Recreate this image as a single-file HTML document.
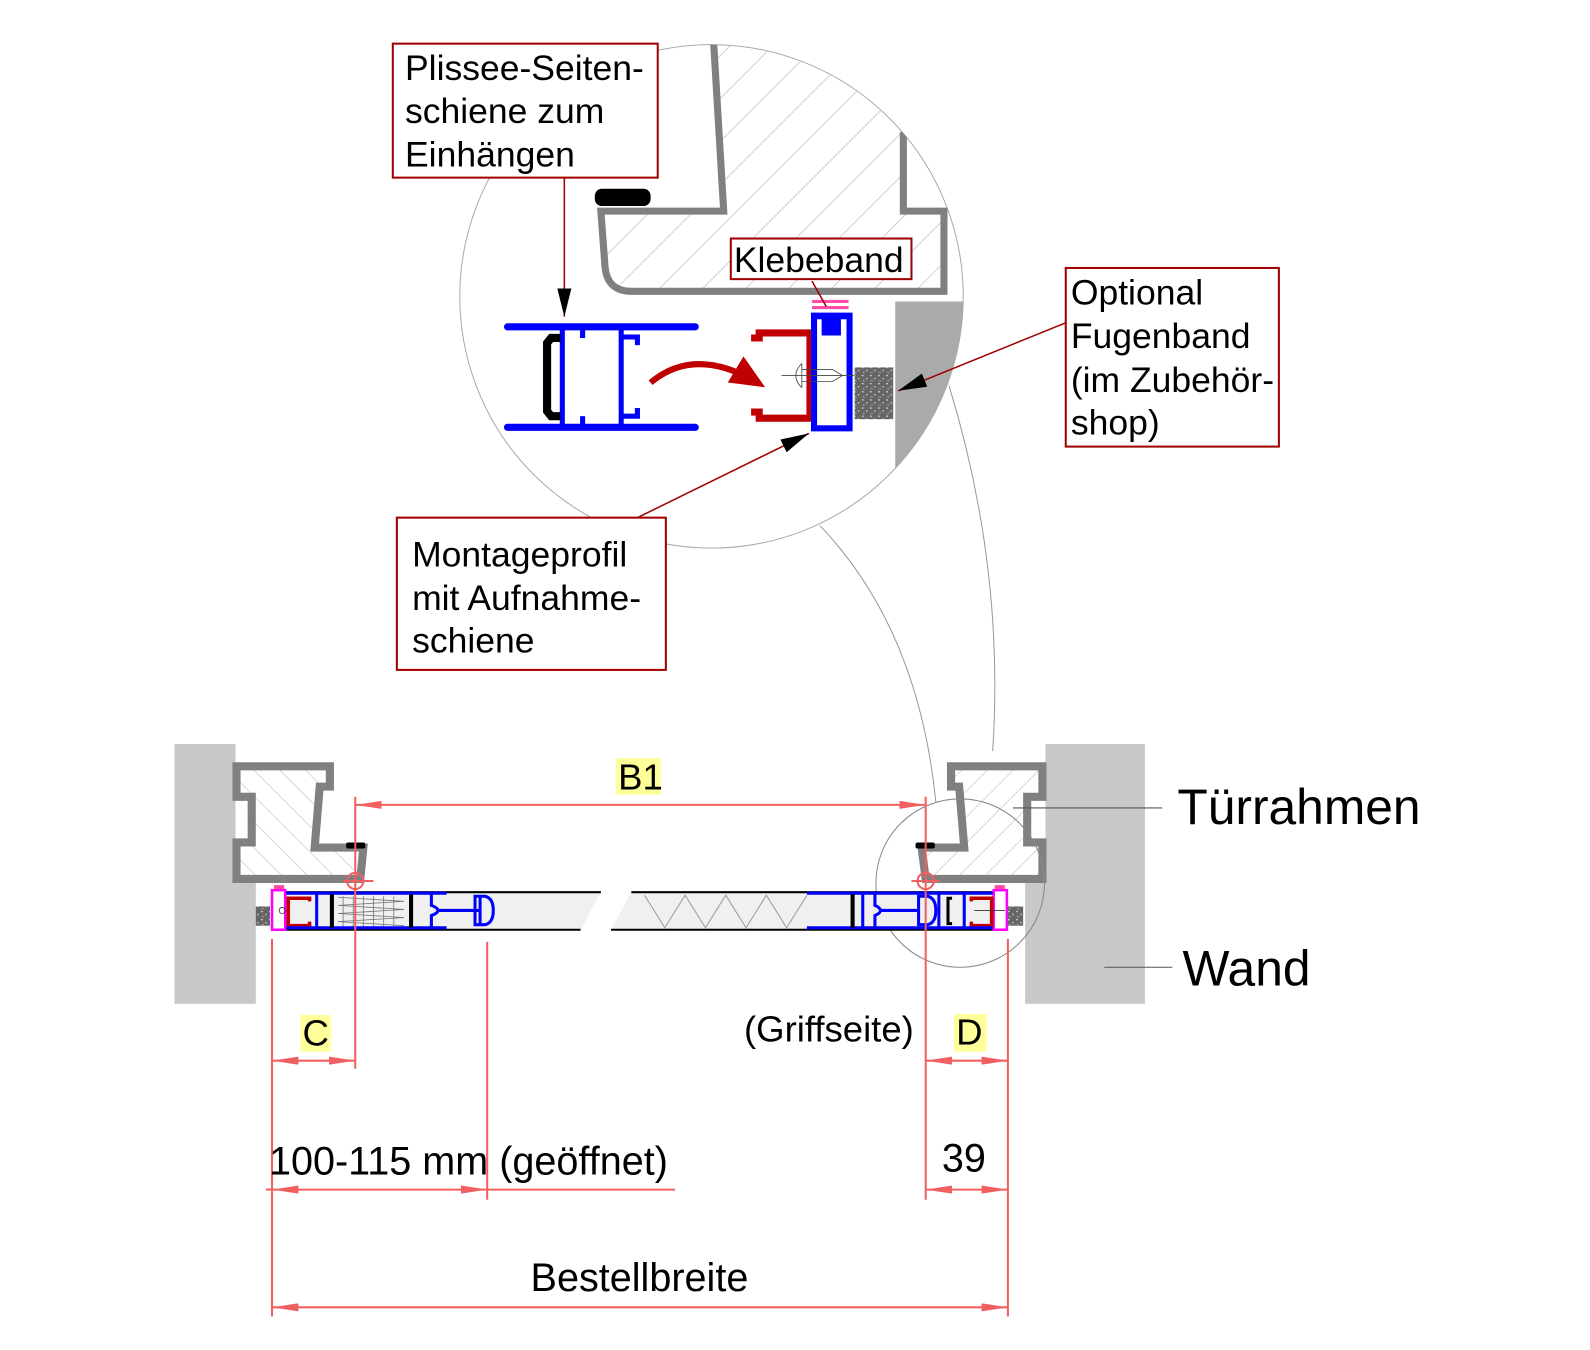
<!DOCTYPE html>
<html><head><meta charset="utf-8"><style>
html,body{margin:0;padding:0;background:#fff;}
svg{display:block;font-family:"Liberation Sans",sans-serif;}
</style></head><body>
<svg width="1590" height="1350" viewBox="0 0 1590 1350" xmlns="http://www.w3.org/2000/svg">
<defs>
<marker id="abig" viewBox="0 0 10 10" refX="10" refY="5" markerWidth="28" markerHeight="14" orient="auto" markerUnits="userSpaceOnUse" preserveAspectRatio="none"><path d="M0,0 L10,5 L0,10 Z" fill="#000"/></marker>
<marker id="dr" viewBox="0 0 10 10" refX="10" refY="5" markerWidth="26" markerHeight="8" orient="auto" markerUnits="userSpaceOnUse" preserveAspectRatio="none"><path d="M0,0 L10,5 L0,10 Z" fill="#f06060"/></marker>
<marker id="dl" viewBox="0 0 10 10" refX="0" refY="5" markerWidth="26" markerHeight="8" orient="auto" markerUnits="userSpaceOnUse" preserveAspectRatio="none"><path d="M10,0 L0,5 L10,10 Z" fill="#f06060"/></marker>
<marker id="rr" viewBox="0 0 10 10" refX="8" refY="5" markerWidth="34" markerHeight="30" orient="auto" markerUnits="userSpaceOnUse" preserveAspectRatio="none"><path d="M0,0 L10,5 L0,10 Z" fill="#c00000"/></marker>
<pattern id="hatch" patternUnits="userSpaceOnUse" width="30" height="30" patternTransform="rotate(45)"><line x1="0" y1="0" x2="0" y2="30" stroke="#c0c0c0" stroke-width="1.5"/></pattern>
<pattern id="hatchS" patternUnits="userSpaceOnUse" width="18" height="18" patternTransform="rotate(45)"><line x1="0" y1="0" x2="0" y2="18" stroke="#c0c0c0" stroke-width="1.2"/></pattern>
<pattern id="hatchL" patternUnits="userSpaceOnUse" width="18" height="18" patternTransform="rotate(-45)"><line x1="0" y1="0" x2="0" y2="18" stroke="#c0c0c0" stroke-width="1.2"/></pattern>
<pattern id="speck" patternUnits="userSpaceOnUse" width="8" height="8"><rect width="8" height="8" fill="#666"/><circle cx="2" cy="2" r="0.8" fill="#ddd"/><circle cx="6" cy="5" r="0.7" fill="#eee"/><circle cx="3" cy="7" r="0.6" fill="#ccc"/></pattern>
<clipPath id="cc"><circle cx="701" cy="292" r="248"/></clipPath>
</defs>
<g transform="scale(1.015)">
<path d="M808,518 Q905,620 922,790" fill="none" stroke="#999" stroke-width="1"/>
<path d="M935,380 Q990,560 978,740" fill="none" stroke="#999" stroke-width="1"/>

<circle cx="701" cy="292" r="248" fill="#fff" stroke="#aaa" stroke-width="1"/>
<g clip-path="url(#cc)">
  <path d="M703,40 L713,208 L592,208 L596,262 Q598,287 622,287 L930,287 L930,208 L890,208 L890,40 Z" fill="url(#hatch)"/>
  <path d="M703,40 L713,208 L592,208 L596,262 Q598,287 622,287 L930,287 L930,208 L890,208 L890,130" fill="none" stroke="#808080" stroke-width="7"/>
  <path d="M882,297 L960,297 L960,470 L882,470 Z" fill="#aaa"/>
</g>
<rect x="586" y="186" width="55" height="17" rx="7" fill="#000"/>

<g stroke="#0000ff" stroke-width="7" fill="none" stroke-linecap="round">
  <line x1="500" y1="322" x2="685" y2="322"/>
  <line x1="500" y1="421" x2="685" y2="421"/>
</g>
<g stroke="#0000ff" stroke-width="5" fill="none">
  <line x1="554" y1="322" x2="554" y2="421"/>
  <line x1="612" y1="322" x2="612" y2="421"/>
  <line x1="574" y1="322" x2="574" y2="333"/>
  <line x1="574" y1="410" x2="574" y2="421"/>
  <path d="M614,332 L628,332 L628,340"/>
  <path d="M614,410 L628,410 L628,402"/>
</g>
<path d="M552,333 L543,333 L539,338 L539,405 L543,410 L552,410" fill="none" stroke="#000" stroke-width="8"/>

<path d="M641,377 Q685,340 748,378" fill="none" stroke="#c00000" stroke-width="6" marker-end="url(#rr)"/>

<path d="M740,333 L748,333 L748,328 L798,328 L798,412 L748,412 L748,406 L740,406" fill="none" stroke="#c00000" stroke-width="7"/>
<rect x="802" y="311" width="35" height="111" fill="none" stroke="#0000ff" stroke-width="6"/>
<path d="M805,312 L812,312 L812,328 L826,328 L826,312 L834,312" fill="#0000ff" stroke="#0000ff" stroke-width="5"/>
<line x1="800" y1="297" x2="836" y2="297" stroke="#ff4da6" stroke-width="3"/>
<line x1="800" y1="303" x2="836" y2="303" stroke="#ff4da6" stroke-width="3"/>
<g stroke="#444" stroke-width="0.8" fill="none">
  <line x1="770" y1="370" x2="842" y2="370"/>
  <path d="M790,358 Q778,370 790,382"/>
  <line x1="790" y1="358" x2="790" y2="382"/>
  <path d="M790,364 L820,364 L830,370 L820,376 L790,376"/>
</g>
<rect x="842" y="362" width="38" height="51" fill="url(#speck)"/>

<line x1="556" y1="175" x2="556" y2="312" stroke="#a00000" stroke-width="1.5" marker-end="url(#abig)"/>
<line x1="800" y1="277" x2="814" y2="302" stroke="#a00000" stroke-width="1.5"/>
<line x1="1050" y1="318" x2="885" y2="385" stroke="#a00000" stroke-width="1.5" marker-end="url(#abig)"/>
<line x1="628" y1="510" x2="797" y2="427" stroke="#a00000" stroke-width="1.5" marker-end="url(#abig)"/>

<g font-size="35" fill="#000">
  <rect x="387" y="43" width="261" height="132" fill="#fff" stroke="#a00000" stroke-width="2"/>
  <text x="399" y="79">Plissee-Seiten-</text>
  <text x="399" y="121">schiene zum</text>
  <text x="399" y="164">Einhängen</text>
  <rect x="720" y="235" width="178" height="40" fill="#fff" stroke="#a00000" stroke-width="2"/>
  <text x="723" y="268">Klebeband</text>
  <rect x="1050" y="264" width="210" height="176" fill="#fff" stroke="#a00000" stroke-width="2"/>
  <text x="1055" y="300">Optional</text>
  <text x="1055" y="343">Fugenband</text>
  <text x="1055" y="386">(im Zubehör-</text>
  <text x="1055" y="428">shop)</text>
  <rect x="391" y="510" width="265" height="150" fill="#fff" stroke="#a00000" stroke-width="2"/>
  <text x="406" y="558">Montageprofil</text>
  <text x="406" y="601">mit Aufnahme-</text>
  <text x="406" y="643">schiene</text>
</g>

<rect x="172" y="733" width="60" height="256" fill="#c8c8c8"/>
<rect x="230" y="868" width="22" height="121" fill="#c8c8c8"/>
<rect x="1030" y="733" width="98" height="256" fill="#c8c8c8"/>
<rect x="1010" y="868" width="22" height="121" fill="#c8c8c8"/>

<path d="M233,755 L325,755 L325,775 L315,775 L310,835 L358,835 L355,866 L233,866 L233,830 L248,830 L248,785 L233,785 Z" fill="url(#hatchL)" stroke="#808080" stroke-width="8"/>
<path d="M1027,755 L937,755 L937,775 L945,775 L950,835 L908,835 L912,866 L1027,866 L1027,830 L1012,830 L1012,785 L1027,785 Z" fill="url(#hatchS)" stroke="#808080" stroke-width="8"/>
<rect x="341" y="830" width="19" height="6" rx="2" fill="#000"/>
<rect x="902" y="830" width="19" height="6" rx="2" fill="#000"/>

<circle cx="946" cy="870" r="83" fill="none" stroke="#888" stroke-width="1"/>

<path d="M280,879 L592,879 L572,916 L280,916 Z" fill="#f0f0f0"/>
<path d="M622,879 L990,879 L990,916 L602,916 Z" fill="#f0f0f0"/>
<g stroke="#000" stroke-width="2">
  <line x1="280" y1="879" x2="592" y2="879"/><line x1="280" y1="916" x2="572" y2="916"/>
  <line x1="622" y1="879" x2="990" y2="879"/><line x1="602" y1="916" x2="990" y2="916"/>
</g>
<path d="M635,882 L655,914 L675,882 L695,914 L715,882 L735,914 L755,882 L775,914 L795,882" fill="none" stroke="#999" stroke-width="1"/>
<path d="M333,884 L398,888 L333,892 L398,896 L333,900 L398,904 L333,908 L398,912" fill="none" stroke="#777" stroke-width="0.8"/>
<g stroke="#777" stroke-width="0.8"><line x1="338" y1="883" x2="338" y2="913"/><line x1="348" y1="883" x2="348" y2="913"/><line x1="358" y1="883" x2="358" y2="913"/><line x1="368" y1="883" x2="368" y2="913"/><line x1="378" y1="883" x2="378" y2="913"/><line x1="388" y1="883" x2="388" y2="913"/></g>

<rect x="268" y="877" width="13" height="39" fill="#fff" stroke="#ff00ff" stroke-width="2.5"/>
<rect x="270" y="872" width="10" height="4" fill="#ff4da6"/>
<rect x="252" y="893" width="14" height="19" fill="url(#speck)"/>
<path d="M305,888 L305,885 L284,885 L284,912 L305,912 L305,908" fill="none" stroke="#c00000" stroke-width="3.5"/>
<g stroke="#0000ff" stroke-width="3" fill="none">
  <line x1="282" y1="880" x2="440" y2="880"/><line x1="282" y1="914" x2="440" y2="914"/>
  <line x1="312" y1="880" x2="312" y2="914"/>
  <path d="M425,880 L425,892 Q438,897 425,902 L425,914"/>
  <line x1="432" y1="897" x2="472" y2="897"/>
  <path d="M468,883 L478,883 Q486,885 486,897 Q486,909 478,911 L468,911 Z"/>
  <line x1="473" y1="883" x2="473" y2="911"/>
</g>
<rect x="325" y="881" width="4" height="33" fill="#000"/>
<rect x="403" y="881" width="4" height="33" fill="#000"/>
<circle cx="278" cy="897" r="3" fill="none" stroke="#333" stroke-width="0.8"/>

<rect x="979" y="877" width="13" height="39" fill="#fff" stroke="#ff00ff" stroke-width="2.5"/>
<rect x="980" y="872" width="10" height="4" fill="#ff4da6"/>
<rect x="993" y="893" width="15" height="19" fill="url(#speck)"/>
<path d="M957,888 L957,885 L977,885 L977,912 L957,912 L957,908" fill="none" stroke="#c00000" stroke-width="3.5"/>
<g stroke="#0000ff" stroke-width="3" fill="none">
  <line x1="795" y1="880" x2="978" y2="880"/><line x1="795" y1="914" x2="978" y2="914"/>
  <line x1="950" y1="880" x2="950" y2="914"/>
  <line x1="925" y1="880" x2="925" y2="914"/>
  <path d="M862,880 L862,892 Q873,897 862,902 L862,914"/>
  <line x1="868" y1="897" x2="905" y2="897"/>
  <path d="M905,883 L914,883 Q922,885 922,897 Q922,909 914,911 L905,911 Z"/>
  <line x1="850" y1="880" x2="850" y2="914"/>
</g>
<rect x="838" y="881" width="4" height="33" fill="#000"/>
<path d="M938,885 L934,885 L934,910 L938,910" fill="none" stroke="#000" stroke-width="3"/>
<line x1="960" y1="897" x2="990" y2="897" stroke="#333" stroke-width="0.8"/>

<g stroke="#f06060" stroke-width="2" fill="none">
  <circle cx="350" cy="868" r="8"/><line x1="338" y1="868" x2="368" y2="868"/>
  <circle cx="912" cy="868" r="8"/><line x1="898" y1="868" x2="926" y2="868"/>
</g>

<g stroke="#f06060" stroke-width="2" fill="none">
  <line x1="350" y1="785" x2="350" y2="1053"/>
  <line x1="912" y1="785" x2="912" y2="1182"/>
  <line x1="268" y1="925" x2="268" y2="1297"/>
  <line x1="993" y1="925" x2="993" y2="1297"/>
  <line x1="480" y1="928" x2="480" y2="1182"/>
  <line x1="350" y1="793" x2="912" y2="793" marker-start="url(#dl)" marker-end="url(#dr)"/>
  <line x1="268" y1="1045" x2="350" y2="1045" marker-start="url(#dl)" marker-end="url(#dr)"/>
  <line x1="912" y1="1045" x2="993" y2="1045" marker-start="url(#dl)" marker-end="url(#dr)"/>
  <line x1="268" y1="1172" x2="480" y2="1172" marker-start="url(#dl)" marker-end="url(#dr)"/>
  <line x1="262" y1="1172" x2="268" y2="1172"/>
  <line x1="480" y1="1172" x2="665" y2="1172"/>
  <line x1="912" y1="1172" x2="993" y2="1172" marker-start="url(#dl)" marker-end="url(#dr)"/>
  <line x1="268" y1="1288" x2="993" y2="1288" marker-start="url(#dl)" marker-end="url(#dr)"/>
</g>

<line x1="998" y1="796" x2="1145" y2="796" stroke="#555" stroke-width="1"/>
<line x1="1088" y1="953" x2="1155" y2="953" stroke="#555" stroke-width="1"/>

<rect x="607" y="747" width="44" height="36" fill="#ffff99"/>
<text x="609" y="778" font-size="36">B1</text>
<rect x="296" y="1000" width="30" height="36" fill="#ffff99"/>
<text x="298" y="1030" font-size="36">C</text>
<rect x="940" y="999" width="32" height="37" fill="#ffff99"/>
<text x="942" y="1029" font-size="36">D</text>
<text x="733" y="1026" font-size="36">(Griffseite)</text>
<text x="265" y="1157" font-size="39">100-115 mm (geöffnet)</text>
<text x="928" y="1154" font-size="39">39</text>
<text x="630" y="1272" font-size="39" text-anchor="middle">Bestellbreite</text>
<text x="1160" y="812" font-size="49">Türrahmen</text>
<text x="1165" y="971" font-size="49">Wand</text>
</g>
</svg>
</body></html>
